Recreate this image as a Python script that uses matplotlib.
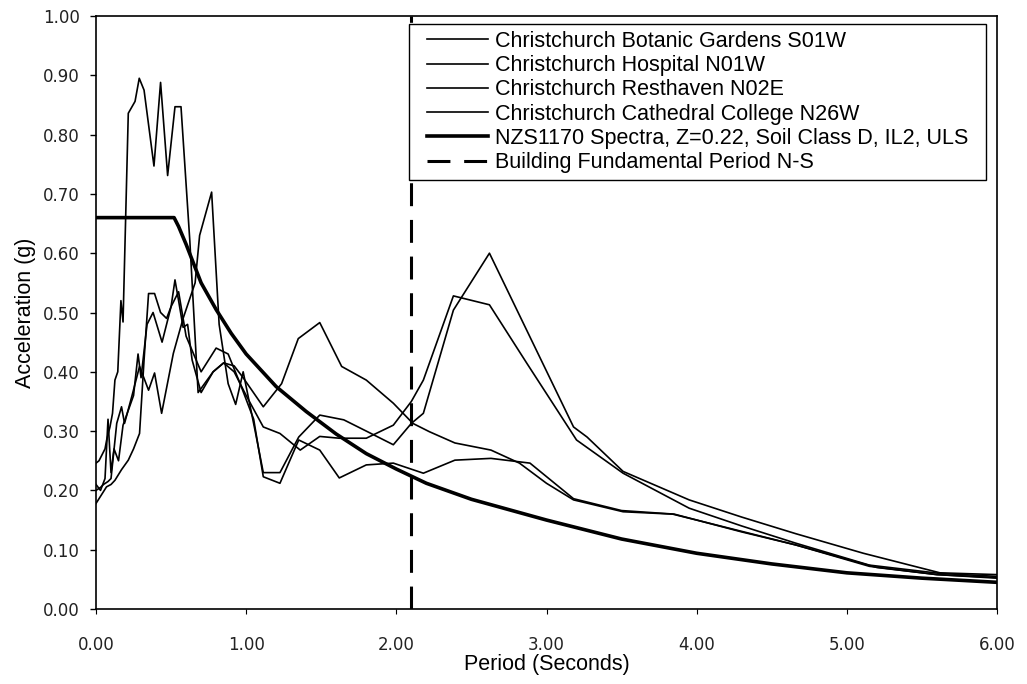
import matplotlib
matplotlib.use("Agg")
import matplotlib.pyplot as plt
from matplotlib.patches import Rectangle

# ---------------- data ----------------
labels = [
    "Christchurch Botanic Gardens S01W",
    "Christchurch Hospital N01W",
    "Christchurch Resthaven N02E",
    "Christchurch Cathedral College N26W",
    "NZS1170 Spectra, Z=0.22, Soil Class D, IL2, ULS",
    "Building Fundamental Period N-S",
]

# Record 1 (peak ~0.485 at 1.5 s)
t_bot = [0.00, 0.03, 0.07, 0.10, 0.126, 0.17, 0.215, 0.25, 0.29, 0.32, 0.35, 0.39, 0.43, 0.47,
         0.50, 0.526, 0.55, 0.58, 0.61, 0.64, 0.70, 0.78, 0.85, 0.92, 0.98, 1.114, 1.236, 1.347,
         1.49, 1.636, 1.80, 1.98, 2.11, 2.22, 2.39, 2.63, 2.82, 3.00, 3.18, 3.51, 3.84, 4.00,
         4.30, 4.66, 5.15, 5.60, 6.00]
a_bot = [0.178, 0.19, 0.206, 0.21, 0.217, 0.235, 0.251, 0.27, 0.296, 0.42, 0.532, 0.532, 0.50, 0.49,
         0.51, 0.555, 0.52, 0.475, 0.48, 0.42, 0.365, 0.40, 0.415, 0.41, 0.39, 0.341, 0.38, 0.456,
         0.483, 0.409, 0.386, 0.347, 0.313, 0.299, 0.280, 0.268, 0.246, 0.212, 0.184, 0.164, 0.160, 0.150,
         0.130, 0.108, 0.072, 0.058, 0.052]

# Record 2 (peak ~0.70 at 0.77 s, long-period peak ~0.60)
t_hos = [0.00, 0.03, 0.05, 0.08, 0.10, 0.138, 0.17, 0.19, 0.24, 0.29, 0.35, 0.39, 0.437, 0.515,
         0.58, 0.66, 0.69, 0.77, 0.82, 0.88, 0.93, 0.98, 1.06, 1.114, 1.225, 1.35, 1.49, 1.65,
         1.80, 1.98, 2.10, 2.18, 2.38, 2.62, 3.18, 3.27, 3.51, 3.95, 4.30, 4.66, 5.11, 5.62, 6.00]
a_hos = [0.20, 0.205, 0.21, 0.215, 0.22, 0.313, 0.341, 0.313, 0.36, 0.409, 0.369, 0.398, 0.33, 0.431,
         0.49, 0.55, 0.63, 0.703, 0.48, 0.38, 0.345, 0.40, 0.30, 0.23, 0.23, 0.29, 0.327, 0.319,
         0.30, 0.277, 0.313, 0.33, 0.504, 0.600, 0.307, 0.29, 0.232, 0.184, 0.155, 0.127, 0.094, 0.061, 0.058]

# Record 3 (short-period peak ~0.89)
t_res = [0.00, 0.02, 0.04, 0.06, 0.071, 0.093, 0.11, 0.126, 0.145, 0.166, 0.18, 0.215, 0.26, 0.288,
         0.32, 0.386, 0.43, 0.477, 0.526, 0.566, 0.625, 0.68, 0.78, 0.85, 0.92, 1.00, 1.114, 1.225,
         1.36, 1.49, 1.62, 1.80, 1.98, 2.10, 2.18, 2.38, 2.62, 2.87, 3.20, 3.51, 3.95, 4.30, 4.66,
         5.15, 5.62, 6.00]
a_res = [0.246, 0.25, 0.26, 0.27, 0.285, 0.307, 0.33, 0.386, 0.40, 0.52, 0.484, 0.836, 0.856, 0.895,
         0.875, 0.747, 0.888, 0.731, 0.847, 0.847, 0.62, 0.365, 0.40, 0.415, 0.40, 0.36, 0.307, 0.296,
         0.268, 0.291, 0.288, 0.288, 0.31, 0.35, 0.386, 0.528, 0.513, 0.414, 0.285, 0.229, 0.170, 0.140, 0.111,
         0.074, 0.060, 0.055]

# Record 4 (lowest in mid-period range)
t_cat = [0.00, 0.03, 0.06, 0.08, 0.10, 0.12, 0.15, 0.18, 0.25, 0.28, 0.30, 0.34, 0.38, 0.44,
         0.50, 0.55, 0.60, 0.70, 0.80, 0.88, 0.96, 1.05, 1.114, 1.225, 1.35, 1.49, 1.62, 1.80,
         1.98, 2.18, 2.39, 2.63, 2.89, 3.18, 3.50, 3.85, 4.00, 4.66, 5.20, 5.60, 6.00]
a_cat = [0.21, 0.20, 0.22, 0.32, 0.23, 0.27, 0.25, 0.31, 0.36, 0.43, 0.39, 0.48, 0.50, 0.45,
         0.51, 0.535, 0.46, 0.40, 0.44, 0.43, 0.38, 0.32, 0.223, 0.212, 0.285, 0.268, 0.221, 0.243,
         0.246, 0.229, 0.251, 0.254, 0.246, 0.186, 0.166, 0.160, 0.150, 0.108, 0.070, 0.058, 0.053]

# NZS1170 design spectrum
t_nzs = [0.00, 0.52, 0.55, 0.60, 0.70, 0.80, 0.90, 1.00, 1.20, 1.40, 1.60, 1.80, 2.00, 2.20,
         2.50, 3.00, 3.50, 4.00, 4.50, 5.00, 5.50, 6.00]
a_nzs = [0.66, 0.66, 0.645, 0.615, 0.55, 0.505, 0.465, 0.43, 0.375, 0.333, 0.295, 0.262, 0.236, 0.212,
         0.185, 0.150, 0.118, 0.094, 0.076, 0.061, 0.052, 0.045]

t_building = 2.10

x_ticks = [0, 1, 2, 3, 4, 5, 6]
y_ticks = [0.0, 0.1, 0.2, 0.3, 0.4, 0.5, 0.6, 0.7, 0.8, 0.9, 1.0]

# ---------------- plot ----------------
fig = plt.figure(figsize=(10.27, 6.84), dpi=100)
ax = fig.add_axes([96 / 1027, 1 - 609 / 684, 901 / 1027, 593 / 684])

thin = 1.2
ax.plot(t_bot, a_bot, color="black", lw=thin, label=labels[0])
ax.plot(t_hos, a_hos, color="black", lw=thin, label=labels[1])
ax.plot(t_res, a_res, color="black", lw=thin, label=labels[2])
ax.plot(t_cat, a_cat, color="black", lw=thin, label=labels[3])
ax.plot(t_nzs, a_nzs, color="black", lw=2.6, label=labels[4])
ax.plot([t_building, t_building], [0, 1.0], color="black", lw=2.2,
        dashes=(7.5, 4.5), label=labels[5])

ax.set_xlim(0, 6)
ax.set_ylim(0, 1.0)
ax.set_xticks(x_ticks)
ax.set_xticklabels([f"{v:.2f}" for v in x_ticks])
ax.set_yticks(y_ticks)
ax.set_yticklabels([f"{v:.2f}" for v in y_ticks])

for s in ax.spines.values():
    s.set_linewidth(1.2)
    s.set_color("black")

ax.tick_params(axis="y", direction="out", length=4.5, width=1.0, pad=7, labelsize=12)
ax.tick_params(axis="x", direction="out", length=3.5, width=0.8, pad=16, labelsize=12)
for lab in ax.get_xticklabels() + ax.get_yticklabels():
    lab.set_family("DejaVu Sans")
    lab.set_color("#222222")

ax.set_xlabel("Period (Seconds)", fontsize=15.5, family="Liberation Sans", labelpad=0)
ax.set_ylabel("Acceleration (g)", fontsize=15.5, family="Liberation Sans", labelpad=5)

# legend box (drawn separately so horizontal padding can exceed vertical padding)
box = Rectangle((313 / 901, 429 / 593), 577 / 901, 156 / 593, transform=ax.transAxes,
                facecolor="white", edgecolor="black", linewidth=1.0, zorder=4)
ax.add_patch(box)

leg = ax.legend(loc="upper left", bbox_to_anchor=(331 / 901, 578 / 593), borderaxespad=0,
                prop={"family": "Liberation Sans", "size": 15.5}, frameon=False,
                handlelength=2.85, handletextpad=0.3, labelspacing=0.15, borderpad=0)
leg.set_zorder(5)

fig.savefig("out.png", dpi=100, facecolor="white")
